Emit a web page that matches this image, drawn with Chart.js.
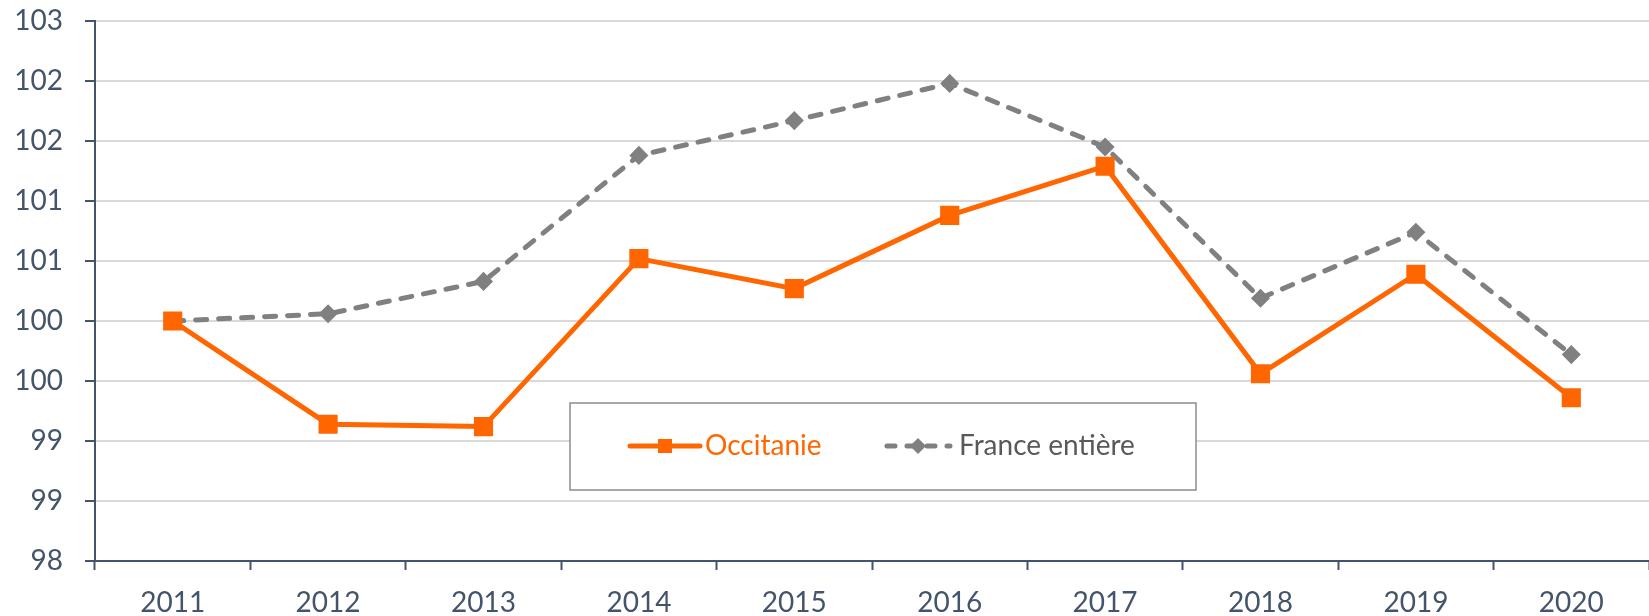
<!DOCTYPE html>
<html>
<head>
<meta charset="utf-8">
<script src="https://cdn.jsdelivr.net/npm/chart.js@4"></script>
<style>
  html, body { margin: 0; padding: 0; background: #fff; }
  #wrap { position: relative; width: 1649px; height: 616px; }
</style>
</head>
<body>
<div id="wrap"><canvas id="indexChart"></canvas></div>
<script>
const years = ['2011', '2012', '2013', '2014', '2015', '2016', '2017', '2018', '2019', '2020'];
const occitanie = [100.0, 99.14, 99.12, 100.52, 100.27, 100.88, 101.29, 99.56, 100.39, 99.36];
const franceEntiere = [100.0, 100.06, 100.33, 101.38, 101.67, 101.98, 101.45, 100.19, 100.74, 99.72];
const yTickLabels = ['98', '99', '99', '100', '100', '101', '101', '102', '102', '103'];

const slate = '#44546A';
const orange = '#FF6600';
const grey = '#808080';

// legend box drawn inside the plot, like the original
const boxLegend = {
    id: 'boxLegend',
    afterDraw(chart) {
        const ctx = chart.ctx;
        ctx.save();
        ctx.strokeStyle = '#8C8C8C';
        ctx.lineWidth = 1.5;
        ctx.fillStyle = '#fff';
        ctx.fillRect(570, 403, 626, 87);
        ctx.strokeRect(570, 403, 626, 87);

        const cy = 446;
        // Occitanie sample
        ctx.strokeStyle = orange;
        ctx.lineWidth = 5;
        ctx.lineCap = 'round';
        ctx.beginPath(); ctx.moveTo(630, cy); ctx.lineTo(700, cy); ctx.stroke();
        ctx.fillStyle = orange;
        ctx.fillRect(658, cy - 7, 14, 14);
        // France sample
        ctx.strokeStyle = grey;
        ctx.setLineDash([8, 12]);
        ctx.beginPath(); ctx.moveTo(887, cy); ctx.lineTo(950, cy); ctx.stroke();
        ctx.setLineDash([]);
        ctx.fillStyle = grey;
        ctx.beginPath();
        ctx.moveTo(918, cy - 8); ctx.lineTo(926, cy); ctx.lineTo(918, cy + 8); ctx.lineTo(910, cy);
        ctx.closePath(); ctx.fill();

        ctx.font = '28px Lato';
        ctx.textBaseline = 'middle';
        ctx.fillStyle = orange;
        ctx.fillText(chart.data.datasets[0].label, 705, cy);
        ctx.fillStyle = '#595959';
        ctx.fillText(chart.data.datasets[1].label, 959, cy);
        ctx.restore();
    }
};

new Chart(document.getElementById('indexChart'), {
    type: 'line',
    data: {
        labels: years,
        datasets: [
            {
                label: 'Occitanie',
                data: occitanie,
                borderColor: orange,
                backgroundColor: orange,
                borderWidth: 5,
                pointStyle: 'rect',
                pointRadius: 10,
                pointHoverRadius: 10,
                tension: 0
            },
            {
                label: 'France entière',
                data: franceEntiere,
                borderColor: grey,
                backgroundColor: grey,
                borderWidth: 5,
                borderDash: [11, 12],
                borderCapStyle: 'round',
                pointStyle: 'rectRot',
                pointRadius: 6,
                pointHoverRadius: 6,
                tension: 0
            }
        ]
    },
    options: {
        responsive: true,
        maintainAspectRatio: false,
        animation: false,
        layout: { autoPadding: false, padding: { top: 21, right: -2, left: 0, bottom: 0 } },
        plugins: {
            legend: { display: false },
            tooltip: { enabled: false }
        },
        scales: {
            x: {
                offset: true,
                grid: { display: true, drawOnChartArea: false, offset: true, tickLength: 9, tickColor: slate, tickWidth: 2 },
                border: { color: slate, width: 2 },
                ticks: { color: slate, font: { family: 'Lato', size: 28 }, padding: 16, maxRotation: 0 },
                afterFit: s => { s.height = 55; s.paddingLeft = 0; s.paddingRight = 0; }
            },
            y: {
                min: 98,
                max: 102.5,
                grid: { color: '#D9D9D9', lineWidth: 2, tickLength: 10, tickColor: slate, tickWidth: 2 },
                border: { color: slate, width: 2 },
                ticks: {
                    stepSize: 0.5,
                    color: slate,
                    font: { family: 'Lato', size: 28 },
                    padding: 22,
                    callback: (v, i) => yTickLabels[i]
                },
                afterFit: s => { s.width = 95; s.paddingTop = 0; s.paddingBottom = 0; }
            }
        }
    },
    plugins: [boxLegend]
});
</script>
</body>
</html>
